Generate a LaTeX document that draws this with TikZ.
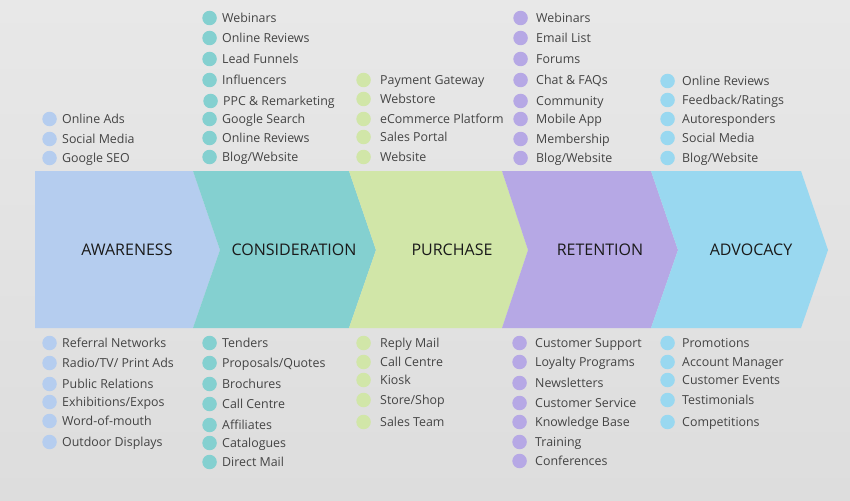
\documentclass[tikz,border=0pt]{standalone}
\usepackage{fontspec}
\setmainfont{Open Sans}
\usepackage{tikz}
\usetikzlibrary{positioning}

\definecolor{bgtop}{HTML}{E8E8E8}
\definecolor{bgbot}{HTML}{DDDDDD}
\definecolor{awcol}{HTML}{B5CDEF}
\definecolor{cocol}{HTML}{84D0D0}
\definecolor{pucol}{HTML}{D1E6A8}
\definecolor{recol}{HTML}{B6A8E5}
\definecolor{adcol}{HTML}{99D8F0}
\definecolor{itemtext}{HTML}{444444}
\definecolor{stagetext}{HTML}{1A1A1A}

\begin{document}
\begin{tikzpicture}[x=1pt, y=-1pt,
    stage/.style={inner sep=0pt, text height=11.4pt, text depth=0pt, font=\fontsize{16}{18}\selectfont, text=stagetext},
    dot/.style={circle, minimum size=14.5pt, inner sep=0pt},
    item/.style={anchor=west, inner sep=0pt, text height=8.9pt, text depth=0pt, font=\fontsize{12.4}{14}\selectfont, text=itemtext},
    awitem/.style={item, label={[dot, fill=awcol, xshift=-5pt]left:{}}},
    coitem/.style={item, label={[dot, fill=cocol, xshift=-5pt]left:{}}},
    puitem/.style={item, label={[dot, fill=pucol, xshift=-9pt]left:{}}},
    reitem/.style={item, label={[dot, fill=recol, xshift=-8pt]left:{}}},
    aditem/.style={item, label={[dot, fill=adcol, xshift=-7pt]left:{}}}]
    % Background
    \shade [top color=bgtop, bottom color=bgbot] (0,0) rectangle (850,500);
    \useasboundingbox (0,0) rectangle (850,500);

    % Chevron band
    \fill [awcol] (35,171) -- (193,171) -- (220,250) -- (193,328) -- (35,328) -- cycle;
    \fill [cocol] (193,171) -- (349,171) -- (376,250) -- (349,328) -- (193,328) -- (220,250) -- cycle;
    \fill [pucol] (349,171) -- (502,171) -- (528,250) -- (502,328) -- (349,328) -- (376,250) -- cycle;
    \fill [recol] (502,171) -- (651,171) -- (678,250) -- (651,328) -- (502,328) -- (528,250) -- cycle;
    \fill [adcol] (651,171) -- (801,171) -- (828,250) -- (801,328) -- (651,328) -- (678,250) -- cycle;

    % Stage names
    \node [stage] (aw) at (127,250) {AWARENESS};
    \node [stage] (co) at (294,250) {CONSIDERATION};
    \node [stage] (pu) at (452,250) {PURCHASE};
    \node [stage] (re) at (600,250) {RETENTION};
    \node [stage] (ad) at (751,250) {ADVOCACY};

    % Awareness - top and bottom
    \node [awitem] (awt1) at (62,119) {Online Ads};
    \node [awitem] (awt2) at (62,139) {Social Media};
    \node [awitem] (awt3) at (62,158) {Google SEO};
    \node [awitem] (awb1) at (62,343) {Referral Networks};
    \node [awitem] (awb2) at (62,363) {Radio/TV/ Print Ads};
    \node [awitem] (awb3) at (62,384) {Public Relations};
    \node [awitem] (awb4) at (62,402) {Exhibitions/Expos};
    \node [awitem] (awb5) at (62,421) {Word-of-mouth};
    \node [awitem] (awb6) at (62,442) {Outdoor Displays};

    % Consideration - top and bottom
    \node [coitem] (cot1) at (222,18) {Webinars};
    \node [coitem] (cot2) at (222,38) {Online Reviews};
    \node [coitem] (cot3) at (222,59) {Lead Funnels};
    \node [coitem] (cot4) at (222,80) {Influencers};
    \node [coitem] (cot5) at (223,101) {PPC \& Remarketing};
    \node [coitem] (cot6) at (222,119) {Google Search};
    \node [coitem] (cot7) at (222,138) {Online Reviews};
    \node [coitem] (cot8) at (222,157) {Blog/Website};
    \node [coitem] (cob1) at (222,343) {Tenders};
    \node [coitem] (cob2) at (222,363) {Proposals/Quotes};
    \node [coitem] (cob3) at (222,384) {Brochures};
    \node [coitem] (cob4) at (222,404) {Call Centre};
    \node [coitem] (cob5) at (222,425) {Affiliates};
    \node [coitem] (cob6) at (222,443) {Catalogues};
    \node [coitem] (cob7) at (222,462) {Direct Mail};

    % Purchase - top and bottom
    \node [puitem] (put1) at (380,80) {Payment Gateway};
    \node [puitem] (put2) at (380,99) {Webstore};
    \node [puitem] (put3) at (380,119) {eCommerce Platform};
    \node [puitem] (put4) at (380,137) {Sales Portal};
    \node [puitem] (put5) at (380,157) {Website};
    \node [puitem] (pub1) at (380,343) {Reply Mail};
    \node [puitem] (pub2) at (380,362) {Call Centre};
    \node [puitem] (pub3) at (380,380) {Kiosk};
    \node [puitem] (pub4) at (380,400) {Store/Shop};
    \node [puitem] (pub5) at (380,422) {Sales Team};

    % Retention - top and bottom
    \node [reitem] (ret1) at (536,18) {Webinars};
    \node [reitem] (ret2) at (536,38) {Email List};
    \node [reitem] (ret3) at (536,59) {Forums};
    \node [reitem] (ret4) at (536,80) {Chat \& FAQs};
    \node [reitem] (ret5) at (536,101) {Community};
    \node [reitem] (ret6) at (536,119) {Mobile App};
    \node [reitem] (ret7) at (536,139) {Membership};
    \node [reitem] (ret8) at (536,158) {Blog/Website};
    \node [reitem] (reb1) at (535,343) {Customer Support};
    \node [reitem] (reb2) at (535,362) {Loyalty Programs};
    \node [reitem] (reb3) at (535,383) {Newsletters};
    \node [reitem] (reb4) at (535,403) {Customer Service};
    \node [reitem] (reb5) at (535,422) {Knowledge Base};
    \node [reitem] (reb6) at (535,442) {Training};
    \node [reitem] (reb7) at (535,461) {Conferences};

    % Advocacy - top and bottom
    \node [aditem] (adt1) at (682,81) {Online Reviews};
    \node [aditem] (adt2) at (682,100) {Feedback/Ratings};
    \node [aditem] (adt3) at (682,119) {Autoresponders};
    \node [aditem] (adt4) at (682,138) {Social Media};
    \node [aditem] (adt5) at (682,158) {Blog/Website};
    \node [aditem] (adb1) at (682,343) {Promotions};
    \node [aditem] (adb2) at (682,362) {Account Manager};
    \node [aditem] (adb3) at (682,380) {Customer Events};
    \node [aditem] (adb4) at (682,400) {Testimonials};
    \node [aditem] (adb5) at (682,422) {Competitions};

\end{tikzpicture}
\end{document}
